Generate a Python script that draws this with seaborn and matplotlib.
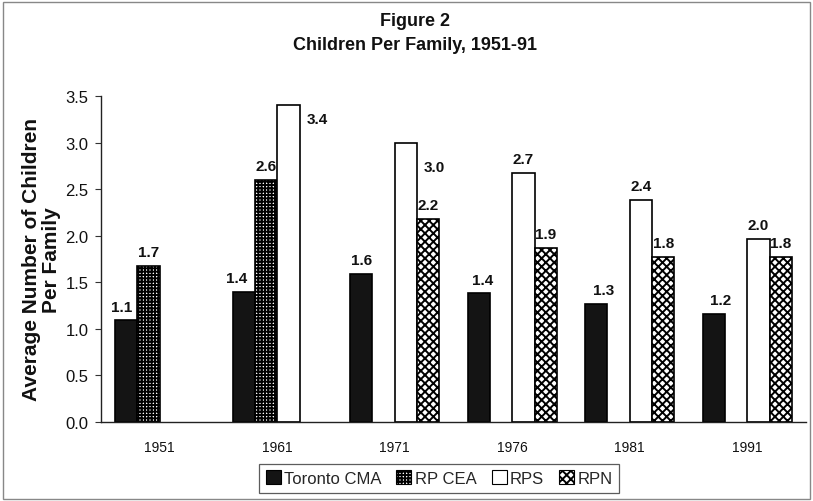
import matplotlib
matplotlib.use("Agg")
import matplotlib.pyplot as plt
import matplotlib.patches as mpatches
import matplotlib.colors as mcolors
import seaborn as sns
import pandas as pd
import numpy as np

# ---- data ----
years = ["1951", "1961", "1971", "1976", "1981", "1991"]
series = ["Toronto CMA", "RP CEA", "RPS", "RPN"]
toronto = [1.09, 1.40, 1.59, 1.38, 1.27, 1.16]
rp_cea = [1.67, 2.60, np.nan, np.nan, np.nan, np.nan]
rps = [np.nan, 3.40, 2.99, 2.67, 2.38, 1.96]
rpn = [np.nan, np.nan, 2.18, 1.87, 1.77, 1.77]

title1 = "Figure 2"
title2 = "Children Per Family, 1951-91"
ylabel = "Average Number of Children\nPer Family"
yticks = [0.0, 0.5, 1.0, 1.5, 2.0, 2.5, 3.0, 3.5]

rows = []
for s, vals in zip(series, [toronto, rp_cea, rps, rpn]):
    for y, v in zip(years, vals):
        rows.append({"Year": y, "Series": s, "Value": v})
df = pd.DataFrame(rows).dropna()

# ---- style ----
sns.set_theme(style="white")
plt.rcParams["font.family"] = ["Liberation Sans", "DejaVu Sans"]
plt.rcParams["hatch.linewidth"] = 1.4

styles = {
    "Toronto CMA": dict(face="#141414", hatch=None),
    "RP CEA": dict(face="white", hatch="+++++"),
    "RPS": dict(face="white", hatch=None),
    "RPN": dict(face="white", hatch="xxxx"),
}
temp_colors = {"Toronto CMA": "#ff0000", "RP CEA": "#00ff00", "RPS": "#0000ff", "RPN": "#ffff00"}

fig = plt.figure(figsize=(8.13, 5.02), dpi=100)
ax = fig.add_axes([0.1242, 0.1574, 0.8672, 0.6494])

sns.barplot(data=df, x="Year", y="Value", hue="Series", order=years,
            hue_order=series, palette=temp_colors, saturation=1, errorbar=None, width=0.76,
            dodge=True, edgecolor="black", linewidth=1.2, ax=ax, legend=False)

# label placement tweaks (offset in points)
right_labels = {("RPS", "1961"): -10, ("RPS", "1971"): -17}
shift_x = {("Toronto CMA", "1951"): -3, ("Toronto CMA", "1961"): -5,
           ("Toronto CMA", "1976"): 3, ("Toronto CMA", "1981"): 5, ("Toronto CMA", "1991"): 5}

rgb_to_series = {mcolors.to_hex(c): s for s, c in temp_colors.items()}
for p in ax.patches:
    key = mcolors.to_hex(p.get_facecolor()[:3])
    s = rgb_to_series.get(key)
    if s is None:
        continue
    st = styles[s]
    p.set_facecolor(st["face"])
    p.set_edgecolor("black")
    if st["hatch"]:
        p.set_hatch(st["hatch"])
    h = p.get_height()
    if not np.isfinite(h) or h <= 0:
        continue
    xc = p.get_x() + p.get_width() / 2
    yr = years[int(round(xc))]
    txt = f"{h:.1f}"
    if (s, yr) in right_labels:
        ax.annotate(txt, xy=(p.get_x() + p.get_width(), h), xytext=(5, right_labels[(s, yr)]),
                    textcoords="offset points", ha="left", va="center",
                    fontsize=11, fontweight="bold", color="#111111")
    else:
        ax.annotate(txt, xy=(xc, h), xytext=(shift_x.get((s, yr), 0), 5), textcoords="offset points",
                    ha="center", va="bottom", fontsize=11, fontweight="bold", color="#111111")

ax.set_xlim(-0.5, len(years) - 0.5)
ax.set_ylim(0, 3.5)
ax.set_yticks(yticks)
ax.set_yticklabels([f"{t:.1f}" for t in yticks], fontsize=12, color="#111111")
ax.set_xticks(range(len(years)))
ax.set_xticklabels(years, fontsize=10, color="#111111")
ax.set_xticks(np.arange(0.5, len(years) - 0.5, 1.0), minor=True)
ax.tick_params(axis="x", which="major", length=0, pad=13)
ax.tick_params(axis="x", which="minor", length=3, width=0.8, color="#333333", direction="out")
ax.tick_params(axis="y", which="major", length=4, width=0.8, color="#333333", direction="out", pad=5, left=True)
ax.set_xlabel("")
ax.set_ylabel(ylabel, fontsize=15, fontweight="bold", color="#111111", labelpad=3, linespacing=1.1)

for side in ["top", "right"]:
    ax.spines[side].set_visible(False)
for side in ["left", "bottom"]:
    ax.spines[side].set_color("#222222")
    ax.spines[side].set_linewidth(1.0)

fig.text(415 / 813, 1 - 21 / 502, title1, ha="center", va="center", fontsize=13, fontweight="bold", color="#111111")
fig.text(415 / 813, 1 - 46 / 502, title2, ha="center", va="center", fontsize=13, fontweight="bold", color="#111111")

handles = [mpatches.Patch(facecolor=styles[s]["face"], edgecolor="black",
                          hatch=styles[s]["hatch"], linewidth=0.8, label=s) for s in series]
leg = fig.legend(handles=handles, loc="center", bbox_to_anchor=(439 / 813, 1 - 479 / 502),
                 ncol=4, frameon=True, fontsize=12, handlelength=0.9, handleheight=0.9,
                 handletextpad=0.2, columnspacing=0.9, borderpad=0.4, fancybox=False)
leg.get_frame().set_edgecolor("#333333")
leg.get_frame().set_linewidth(0.9)

fig.patches.append(mpatches.Rectangle((0.004, 0.004), 0.992, 0.99, transform=fig.transFigure,
                                      fill=False, edgecolor="#888888", linewidth=1.0))

fig.savefig("out.png", dpi=100)
